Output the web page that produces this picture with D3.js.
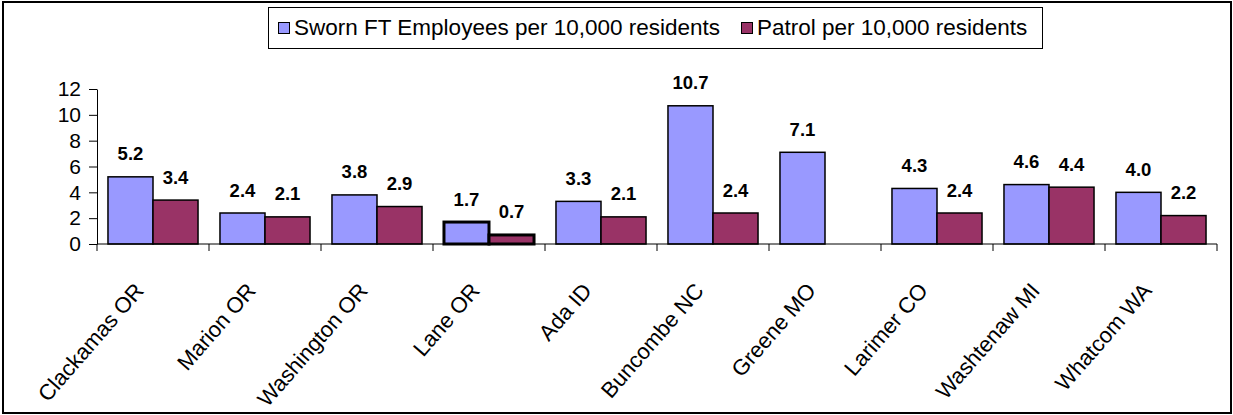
<!DOCTYPE html>
<html>
<head>
<meta charset="utf-8">
<script src="https://cdn.jsdelivr.net/npm/d3@7"></script>
<style>
  body { margin: 0; background: #fff; }
  svg { display: block; font-family: Arial, "Liberation Sans", sans-serif; }
</style>
</head>
<body>
<svg width="1233" height="415"></svg>
<script>
const counties = ["Clackamas OR", "Marion OR", "Washington OR", "Lane OR", "Ada ID",
  "Buncombe NC", "Greene MO", "Larimer CO", "Washtenaw MI", "Whatcom WA"];
const sworn = [5.2, 2.4, 3.8, 1.7, 3.3, 10.7, 7.1, 4.3, 4.6, 4.0];
const patrol = [3.4, 2.1, 2.9, 0.7, 2.1, 2.4, null, 2.4, 4.4, 2.2];
const seriesNames = ["Sworn FT Employees per 10,000 residents", "Patrol per 10,000 residents"];
const yTicks = [0, 2, 4, 6, 8, 10, 12];
const highlight = "Lane OR";

const colors = ["#9999FF", "#993366"];
const margin = { top: 89, left: 97, right: 16, bottom: 171 };
const width = 1233 - margin.left - margin.right;
const height = 415 - margin.top - margin.bottom;

const svg = d3.select("svg");

// outer frame
svg.append("rect")
  .attr("x", 3).attr("y", 2)
  .attr("width", 1228).attr("height", 411)
  .attr("fill", "none").attr("stroke", "#000").attr("stroke-width", 2);

const g = svg.append("g").attr("transform", `translate(${margin.left},${margin.top})`);

const x = d3.scaleBand().domain(counties).range([0, width]).paddingInner(0.196).paddingOuter(0.098);
const x0 = d3.scaleBand().domain(counties).range([0, width]);
const xs = d3.scaleBand().domain([0, 1]).range([0, x.bandwidth()]);
const y = d3.scaleLinear().domain([0, 12]).range([height, 0]);

const rows = counties.map((c, i) => ({ county: c, values: [sworn[i], patrol[i]] }));

// bars
const grp = g.selectAll(".grp").data(rows).join("g")
  .attr("transform", d => `translate(${x(d.county)},0)`);

grp.selectAll("rect")
  .data(d => d.values.map((v, k) => ({ v, k, county: d.county })).filter(e => e.v != null))
  .join("rect")
  .attr("x", d => xs(d.k))
  .attr("y", d => y(d.v))
  .attr("width", xs.bandwidth())
  .attr("height", d => y(0) - y(d.v))
  .attr("fill", d => colors[d.k])
  .attr("stroke", "#000")
  .attr("stroke-width", d => d.county === highlight ? 3 : 1.5);

grp.selectAll("text")
  .data(d => d.values.map((v, k) => ({ v, k })).filter(e => e.v != null))
  .join("text")
  .attr("x", d => xs(d.k) + xs.bandwidth() / 2)
  .attr("y", d => y(d.v) - 16.5)
  .attr("text-anchor", "middle")
  .attr("font-size", 18.5)
  .attr("font-weight", "bold")
  .text(d => d3.format(".1f")(d.v));

// y axis
const yAxis = g.append("g").call(d3.axisLeft(y).tickValues(yTicks).tickSize(8).tickSizeOuter(0));
yAxis.select(".domain").attr("stroke", "#000");
yAxis.selectAll(".tick text").attr("font-size", 21).attr("fill", "#000")
  .attr("font-family", "Arial, 'Liberation Sans', sans-serif").attr("x", -16);

// x axis
const xAxisG = g.append("g").attr("transform", `translate(0,${height})`);
xAxisG.append("line").attr("x1", 0).attr("x2", width).attr("stroke", "#000");
xAxisG.selectAll(".xt").data(counties.concat(["end"])).join("line")
  .attr("x1", (d, i) => i * x0.step()).attr("x2", (d, i) => i * x0.step())
  .attr("y1", 0).attr("y2", 7).attr("stroke", "#000");

xAxisG.selectAll(".lbl").data(counties).join("text")
  .attr("transform", d => `translate(${x0(d) + x0.bandwidth() / 2 - 20},37) rotate(-49)`)
  .attr("text-anchor", "end")
  .attr("dy", "0.72em")
  .attr("font-size", 22)
  .text(d => d);

// legend
const lg = svg.append("g");
lg.append("rect")
  .attr("x", 268.5).attr("y", 7.5).attr("width", 774).attr("height", 41)
  .attr("fill", "#fff").attr("stroke", "#000").attr("stroke-width", 1);
const legendX = [278, 741];
seriesNames.forEach((name, i) => {
  lg.append("rect")
    .attr("x", legendX[i] + 0.5).attr("y", 22.5).attr("width", 11).attr("height", 11)
    .attr("fill", colors[i]).attr("stroke", "#000").attr("stroke-width", 1);
  lg.append("text")
    .attr("x", legendX[i] + 16).attr("y", 35)
    .attr("font-size", 22.5)
    .text(name);
});
</script>
</body>
</html>
